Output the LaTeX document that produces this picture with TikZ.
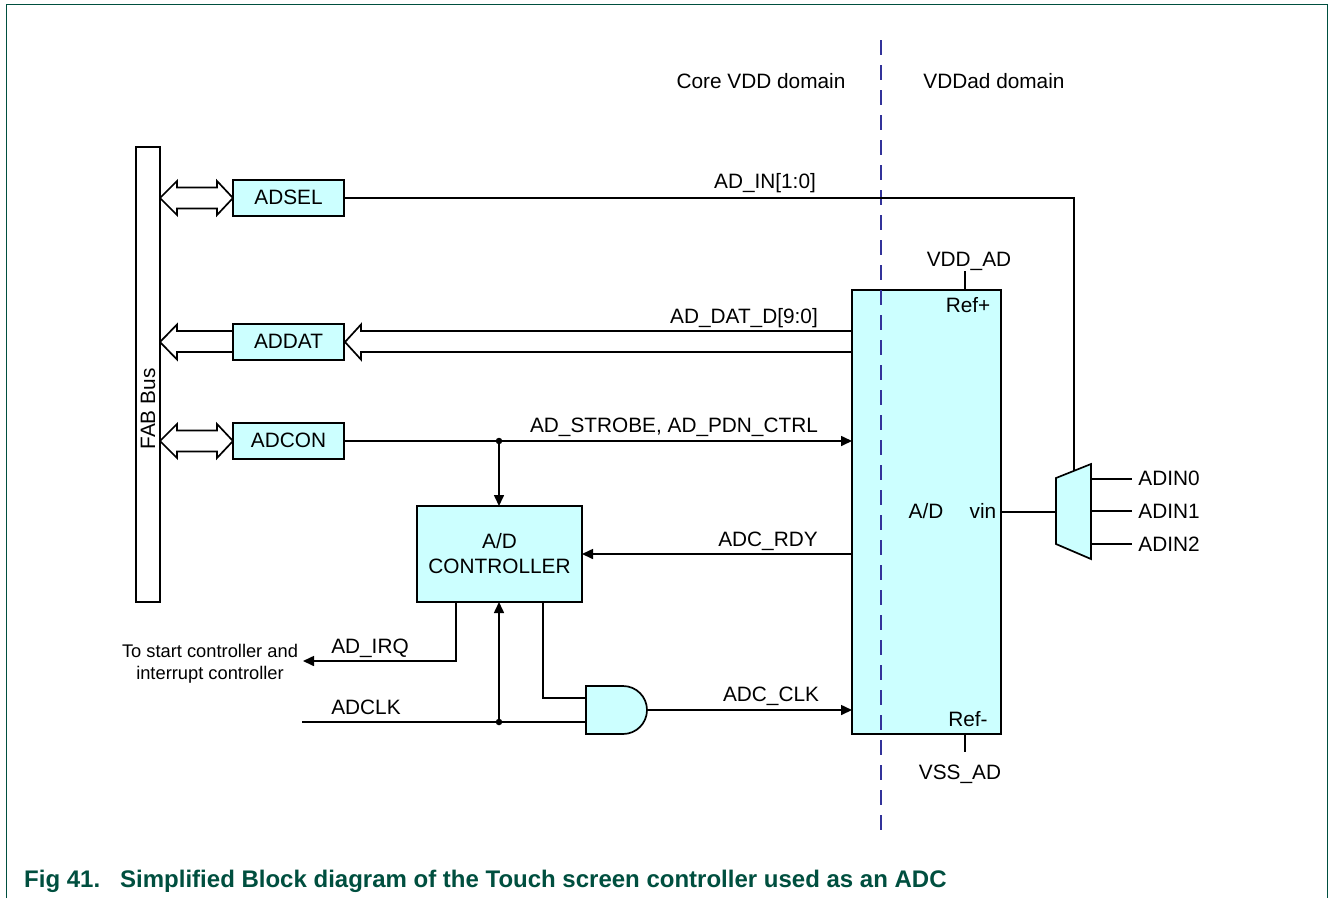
\documentclass[tikz,border=0pt]{standalone}
\usepackage{fontspec}
\setmainfont{Liberation Sans}
\usetikzlibrary{arrows.meta}
\definecolor{blockfill}{HTML}{CCFFFF}
\definecolor{framegreen}{HTML}{004F3F}
\definecolor{domainblue}{HTML}{33339A}
\tikzset{
  block/.style={draw=black,line width=1.7pt,outer sep=0pt,fill=blockfill,inner sep=0pt,anchor=north west,font=\fontsize{20.8}{25}\selectfont,align=center},
  lbl/.style={inner sep=0pt,font=\fontsize{20.8}{25}\selectfont},
  small/.style={inner sep=0pt,align=center,font=\fontsize{18.3}{22}\selectfont},
  wire/.style={draw=black,line width=1.6pt},
  arr/.style={wire,-{Triangle[length=11pt,width=10pt]}},
  fat/.style={draw=black,line width=1.7pt,fill=white,line join=miter},
  dot/.style={circle,fill=black,inner sep=0pt,minimum size=6.5pt},
  pt/.style={inner sep=0pt,minimum size=0pt}
}
\begin{document}
\begin{tikzpicture}[x=1pt,y=-1pt]
\useasboundingbox (0,0) rectangle (1328,898);
% frame
\draw[framegreen,line width=1.2pt] (6.3,898) -- (6.3,4.7) -- (1327.2,4.7) -- (1327.2,898);
% fat bus arrows (under the blocks)
\draw[fat] (160,198) -- (177,181) -- (177,187.5) -- (217,187.5) -- (217,181) -- (233,198) -- (217,215) -- (217,208.5) -- (177,208.5) -- (177,215) -- cycle;
\draw[fat] (160,441) -- (177,424) -- (177,430.5) -- (217,430.5) -- (217,424) -- (233,441) -- (217,458) -- (217,451.5) -- (177,451.5) -- (177,458) -- cycle;
\draw[fat] (233,331) -- (177,331) -- (177,324.5) -- (160,342) -- (177,359.5) -- (177,352) -- (233,352);
\draw[fat] (852,331) -- (361,331) -- (361,324.5) -- (345,342) -- (361,359.5) -- (361,352) -- (852,352);
% blocks
\node[draw=black,line width=1.7pt,outer sep=0pt,fill=white,minimum width=24pt,minimum height=455pt,inner sep=0pt,anchor=north west] (bus) at (136,147) {};
\node[lbl,rotate=90] (buslabel) at (148,409) {FAB Bus};
\node[block,minimum width=111pt,minimum height=36pt] (adsel) at (233,180) {\raisebox{1pt}{ADSEL}};
\node[block,minimum width=111pt,minimum height=36pt] (addat) at (233,324) {\raisebox{1pt}{ADDAT}};
\node[block,minimum width=111pt,minimum height=36pt] (adcon) at (233,423) {\raisebox{1pt}{ADCON}};
\node[block,minimum width=165pt,minimum height=96pt] (ctrl) at (417,506) {\raisebox{1pt}{A/D}\\\raisebox{1pt}{CONTROLLER}};
\node[block,minimum width=149pt,minimum height=444pt] (ad) at (852,290) {};
% AND gate
\draw[line width=1.7pt,fill=blockfill] (586,686) coordinate (andtl) -- (623,686) arc[start angle=90,end angle=-90,radius=24pt] -- (586,734) coordinate (andbl) -- cycle;
\coordinate (andin1) at (586,698);
\coordinate (andin2) at (586,722);
\coordinate (andout) at (647,710);
% mux
\draw[line width=1.7pt,fill=blockfill] (1056,478) -- (1091,464) -- (1091,559) -- (1056,544) -- cycle;
\coordinate (muxtop) at (1074,471);
\coordinate (muxleft) at (1056,512);
% domain line (over the block)
\coordinate (domtop) at (881,40);
\coordinate (dombot) at (881,832);
\draw[domainblue,line width=1.5pt,dash pattern=on 15pt off 10pt,dash phase=0pt] (domtop) -- (dombot);
% free ends and junctions
\node[dot] (jcon) at (499,441) {};
\node[dot] (jclk) at (499,722) {};
\coordinate (irqend) at (303,661);
\coordinate (clkstart) at (302,722);
\coordinate (vddtop) at (965,271);
\coordinate (vsstop) at (965,752);
% connectors
\draw[wire] (adsel.east |- 0,198) -| (muxtop);
\draw[arr] (adcon.east |- 0,441) -- (ad.west |- 0,441);
\draw[arr] (jcon) -- (ctrl.north -| jcon);
\draw[arr] (ad.west |- 0,554) -- (ctrl.east |- 0,554);
\draw[arr] (ctrl.south -| 456,0) |- (irqend);
\draw[wire] (clkstart) -- (andin2);
\draw[arr] (jclk) -- (ctrl.south -| jclk);
\draw[wire] (ctrl.south -| 543,0) |- (andin1);
\draw[arr] (andout) -- (ad.west |- andout);
\draw[wire] (vddtop) -- (ad.north -| vddtop);
\draw[wire] (ad.south -| vsstop) -- (vsstop);
\draw[wire] (ad.east |- muxleft) -- (muxleft);
\foreach \n/\y in {a/479,b/511,c/544}{
  \coordinate (in\n) at (1091,\y);
  \coordinate (out\n) at (1132,\y);
  \draw[wire] (in\n) -- (out\n);
}
% labels
\node[lbl] (core) at (761,81) {Core VDD domain};
\node[lbl] (vddad) at (994,81) {VDDad domain};
\node[lbl] (adin) at (765,183) {AD\_IN[1:0]};
\node[lbl] (vddlbl) at (969,261) {VDD\_AD};
\node[lbl] (refp) at (968,305) {Ref+};
\node[lbl] (refm) at (968,719) {Ref-};
\node[lbl] (datlbl) at (744,318) {AD\_DAT\_D[9:0]};
\node[lbl] (strobe) at (674,427) {AD\_STROBE, AD\_PDN\_CTRL};
\node[lbl] (adl) at (926,511) {A/D};
\node[lbl] (vin) at (983,511) {vin};
\node[lbl] (adin0) at (1169,478) {ADIN0};
\node[lbl] (adin1) at (1169,511) {ADIN1};
\node[lbl] (adin2) at (1169,544) {ADIN2};
\node[lbl] (rdy) at (768,541) {ADC\_RDY};
\node[lbl] (irq) at (370,648) {AD\_IRQ};
\node[lbl] (clk) at (366,707) {ADCLK};
\node[lbl] (cclk) at (771,696) {ADC\_CLK};
\node[lbl] (vss) at (960,774) {VSS\_AD};
\node[small] (tostart) at (210,664) {To start controller and\\interrupt controller};
\node[inner sep=0pt,anchor=base west,text=framegreen,font=\bfseries\fontsize{24}{28}\selectfont] (cap) at (24,887) {Fig 41.\hspace{20pt}Simplified Block diagram of the Touch screen controller used as an ADC};
\end{tikzpicture}
\end{document}
